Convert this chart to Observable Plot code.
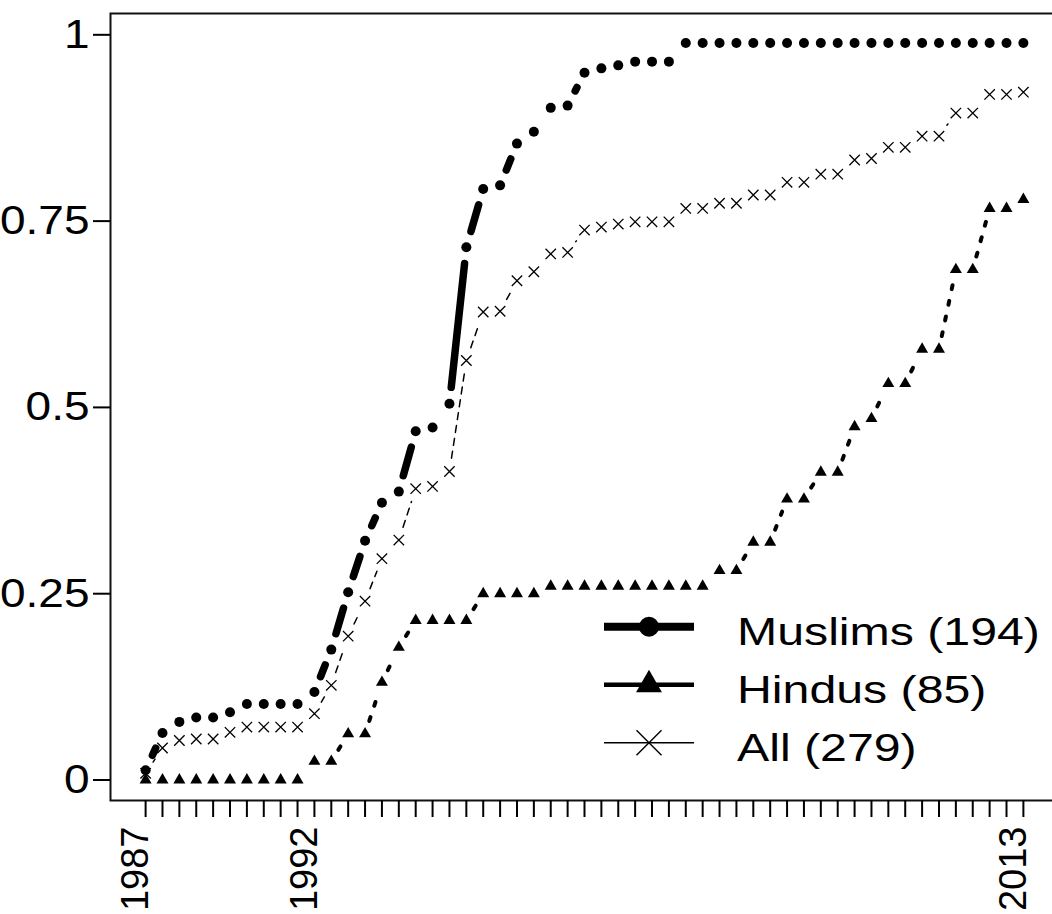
<!DOCTYPE html>
<html>
<head>
<meta charset="utf-8">
<script src="https://cdn.jsdelivr.net/npm/d3@7"></script>
<script src="https://cdn.jsdelivr.net/npm/@observablehq/plot@0.6"></script>
<style>
html, body { margin: 0; padding: 0; background: white; overflow: hidden; }
#wrap { position: relative; width: 1052px; height: 914px; }
</style>
</head>
<body>
<div id="wrap"></div>
<script>
// half-year periods
const periods = [1987, 1987.5, 1988, 1988.5, 1989, 1989.5, 1990, 1990.5, 1991, 1991.5,
  1992, 1992.5, 1993, 1993.5, 1994, 1994.5, 1995, 1995.5, 1996, 1996.5,
  1997, 1997.5, 1998, 1998.5, 1999, 1999.5, 2000, 2000.5, 2001, 2001.5,
  2002, 2002.5, 2003, 2003.5, 2004, 2004.5, 2005, 2005.5, 2006, 2006.5,
  2007, 2007.5, 2008, 2008.5, 2009, 2009.5, 2010, 2010.5, 2011, 2011.5,
  2012, 2012.5, 2013];

const muslims = [0.013, 0.063, 0.078, 0.084, 0.084, 0.091, 0.102, 0.102, 0.102, 0.102,
  0.118, 0.175, 0.252, 0.321, 0.372, 0.387, 0.468, 0.473, 0.505, 0.715,
  0.793, 0.798, 0.854, 0.870, 0.902, 0.905, 0.949, 0.955, 0.959, 0.964,
  0.964, 0.964, 0.989, 0.989, 0.989, 0.989, 0.989, 0.989, 0.989, 0.989,
  0.989, 0.989, 0.989, 0.989, 0.989, 0.989, 0.989, 0.989, 0.989, 0.989,
  0.989, 0.989, 0.989];

const hindus = [0, 0, 0, 0, 0, 0, 0, 0, 0, 0,
  0.025, 0.025, 0.062, 0.062, 0.131, 0.178, 0.214, 0.214, 0.214, 0.214,
  0.25, 0.25, 0.25, 0.25, 0.26, 0.26, 0.26, 0.26, 0.26, 0.26,
  0.26, 0.26, 0.26, 0.26, 0.281, 0.281, 0.319, 0.319, 0.377, 0.377,
  0.413, 0.413, 0.474, 0.485, 0.532, 0.532, 0.578, 0.578, 0.685, 0.685,
  0.767, 0.767, 0.779];

const all = [0.009, 0.043, 0.053, 0.055, 0.055, 0.064, 0.071, 0.071, 0.071, 0.071,
  0.089, 0.127, 0.193, 0.24, 0.297, 0.322, 0.391, 0.394, 0.414, 0.563,
  0.628, 0.629, 0.67, 0.682, 0.706, 0.708, 0.738, 0.742, 0.746, 0.749,
  0.749, 0.749, 0.767, 0.767, 0.774, 0.774, 0.785, 0.785, 0.802, 0.802,
  0.813, 0.813, 0.832, 0.834, 0.849, 0.849, 0.864, 0.864, 0.895, 0.895,
  0.92, 0.92, 0.923];

const yTicks = [0, 0.25, 0.5, 0.75, 1];
const labeledYears = [1987, 1992, 2013];
const seriesNames = ["Muslims (194)", "Hindus (85)", "All (279)"];

const points = vals => vals.map((v, i) => ({t: periods[i], v}));
const segments = vals => vals.slice(1).map((v, i) => ({t1: periods[i], v1: vals[i], t2: periods[i + 1], v2: v}));

const GAP = 13.5;
const seg = (vals, opts) => Plot.arrow(segments(vals), {
  x1: "t1", y1: "v1", x2: "t2", y2: "v2", headLength: 0, bend: 0,
  stroke: "black", insetStart: GAP, insetEnd: GAP, ...opts
});

const FONT = "'Liberation Sans', Arial, sans-serif";

const plot = Plot.plot({
  width: 1052,
  height: 914,
  marginLeft: 110,
  marginRight: -6,
  marginTop: 13,
  marginBottom: 114,
  style: {background: "white", fontFamily: FONT, overflow: "hidden"},
  x: {domain: [1985.96, 2014.04], label: null},
  y: {domain: [-0.0275, 1.0286], label: null},
  marks: [
    Plot.frame({stroke: "#111", strokeWidth: 2}),
    Plot.axisY({ticks: yTicks, tickSize: 17, tickPadding: 4, fontSize: 40, strokeWidth: 2,
      tickFormat: d => String(d), label: null}),
    Plot.axisX({ticks: periods, tickSize: 17, strokeWidth: 2, tickFormat: () => "", label: null}),
    Plot.axisX({ticks: labeledYears, tickSize: 0, tickPadding: 26, tickRotate: -90, fontSize: 38,
      dx: -10, tickFormat: d => String(d), label: null}),
    seg(all, {strokeWidth: 1.5, strokeDasharray: "7 6"}),
    seg(hindus, {strokeWidth: 4, strokeDasharray: "4 12"}),
    seg(muslims, {strokeWidth: 7.5, strokeLinecap: "round", insetStart: GAP + 3, insetEnd: GAP + 3}),
    Plot.dot(points(all), {x: "t", y: "v", symbol: "times", r: 4.8, stroke: "black", strokeWidth: 1.3}),
    Plot.dot(points(hindus), {x: "t", y: "v", symbol: "triangle", r: 4.45, fill: "black", stroke: "none"}),
    Plot.dot(points(muslims), {x: "t", y: "v", symbol: "circle", r: 5, fill: "black", stroke: "none"})
  ]
});

// horizontal widening of horizontal text (as in the original rendering)
function widen(sel, sx) {
  sel.each(function () {
    const t = this.getAttribute("transform");
    if (t) {
      this.setAttribute("transform", t + ` scale(${sx},1)`);
    } else {
      const x = +(this.getAttribute("x") || 0), y = +(this.getAttribute("y") || 0);
      this.removeAttribute("x"); this.removeAttribute("y");
      this.setAttribute("transform", `translate(${x},${y}) scale(${sx},1)`);
    }
  });
}
widen(d3.select(plot).selectAll('g[aria-label="y-axis tick label"] text'), 1.15);

// legend (inside the plot area, lower right)
const legendRows = [
  {name: seriesNames[0], lw: 8, sym: d3.symbolCircle, size: 314, fill: "black", stroke: "none", sw: 0},
  {name: seriesNames[1], lw: 4.5, sym: d3.symbolTriangle, size: 290, fill: "black", stroke: "none", sw: 0},
  {name: seriesNames[2], lw: 1.5, sym: d3.symbolTimes, size: 410, fill: "none", stroke: "black", sw: 1.4}
];
const legendLeft = 604, legendLineLen = 90, legendTextX = 737, legendTop = 626.7, legendGap = 58;
const lg = d3.select(plot).append("g").attr("aria-label", "legend")
  .attr("text-anchor", "start").attr("font-family", FONT);
legendRows.forEach((r, i) => {
  const cy = legendTop + i * legendGap;
  lg.append("line").attr("x1", legendLeft).attr("x2", legendLeft + legendLineLen)
    .attr("y1", cy).attr("y2", cy).attr("stroke", "black").attr("stroke-width", r.lw);
  lg.append("path").attr("d", d3.symbol(r.sym, r.size)())
    .attr("transform", `translate(${legendLeft + legendLineLen / 2},${cy})`)
    .attr("fill", r.fill).attr("stroke", r.stroke).attr("stroke-width", r.sw);
  lg.append("text").text(r.name)
    .attr("text-anchor", "start")
    .attr("transform", `translate(${legendTextX},${cy + 18.5}) scale(1.27,1)`)
    .attr("font-size", 38).attr("fill", "black");
});

document.getElementById("wrap").appendChild(plot);
</script>
</body>
</html>
